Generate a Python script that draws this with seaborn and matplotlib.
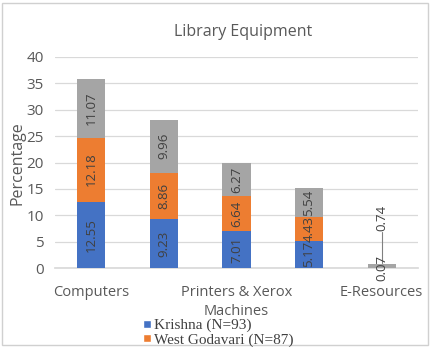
import matplotlib
matplotlib.use("Agg")
import matplotlib.pyplot as plt
from matplotlib.patches import Rectangle, Patch
import seaborn as sns
import pandas as pd
import numpy as np

categories = ["Computers", "Scanners", "Printers & Xerox\nMachines", "CD/DVD", "E-Resources"]
shown_ticks = ["Computers", "", "Printers & Xerox\nMachines", "", "E-Resources"]
krishna = [12.55, 9.23, 7.01, 5.17, 0.07]
west_godavari = [12.18, 8.86, 6.64, 4.43, 0.0]
third_series = [11.07, 9.96, 6.27, 5.54, 0.74]
series_names = ["Krishna (N=93)", "West Godavari (N=87)", "Other"]
colors = ["#4472C4", "#ED7D31", "#A5A5A5"]

sns.set_theme(style="white")
plt.rcParams["font.family"] = ["Open Sans", "DejaVu Sans"]

fig = plt.figure(figsize=(4.31, 3.47), dpi=100)
ax = fig.add_axes([55/431, 1-268/347, (418-55)/431, (268-57)/347])

k = np.array(krishna)
w = np.array(west_godavari)
t = np.array(third_series)
cum = [k + w + t, k + w, k]
for vals, c in zip(cum, colors[::-1]):
    df = pd.DataFrame({"cat": categories, "val": vals})
    sns.barplot(data=df, x="cat", y="val", color=c, width=0.39, ax=ax,
                saturation=1, order=categories, zorder=3, linewidth=0)

# data labels
bottoms = [np.zeros(5), k, k + w]
for si, (vals, bot) in enumerate(zip([k, w, t], bottoms)):
    for i, (v, b) in enumerate(zip(vals, bot)):
        if v <= 0:
            continue
        if i == 4 and si == 2:
            y = 9.4
            ax.plot([i, i], [b + v + 0.2, y - 2.5], color="#808080", lw=0.8, zorder=4)
            ax.text(i, y, f"{v:.2f}", rotation=90, ha="center", va="center",
                    fontsize=9.5, color="#404040", zorder=5)
            continue
        ax.text(i, b + v / 2, f"{v:.2f}", rotation=90, ha="center", va="center",
                fontsize=9.5, color="#404040", zorder=5)

ax.set_ylim(0, 40)
ax.set_xlim(-0.5, 4.5)
ax.set_yticks(range(0, 41, 5))
ax.yaxis.grid(True, color="#D9D9D9", lw=0.9, zorder=0)
ax.set_axisbelow(True)
for s in ["top", "right", "left"]:
    ax.spines[s].set_visible(False)
ax.spines["bottom"].set_color("#D9D9D9")
ax.set_xticks(range(5))
ax.set_xticklabels(shown_ticks, fontsize=10.5, color="#595959", linespacing=1.4)
ax.tick_params(axis="y", labelsize=11, labelcolor="#595959", length=0, pad=8)
ax.tick_params(axis="x", length=0, pad=12)
ax.set_xlabel("")
ax.set_ylabel("")

fig.text(243/431, 1-32/347, "Library Equipment", ha="center", va="center",
         fontsize=11.5, color="#595959")
fig.text(18/431, 1-163/347, "Percentage", rotation=90, ha="center", va="center",
         fontsize=11.5, color="#595959")

handles = [Patch(facecolor=colors[0]), Patch(facecolor=colors[1])]
fig.legend(handles, series_names[:2], loc="upper left",
           bbox_to_anchor=(143/431, 1-319/347), frameon=False,
           prop={"family": "Liberation Serif", "size": 11},
           labelcolor="#404040", handlelength=0.5, handleheight=0.5,
           handletextpad=0.2, labelspacing=0.05, borderpad=0, borderaxespad=0)

fig.patches.append(Rectangle((2/431, 2/347), 426/431, 342/347, transform=fig.transFigure,
                             fill=False, edgecolor="#D0D0D0", lw=1))

fig.savefig("out.png", dpi=100)
